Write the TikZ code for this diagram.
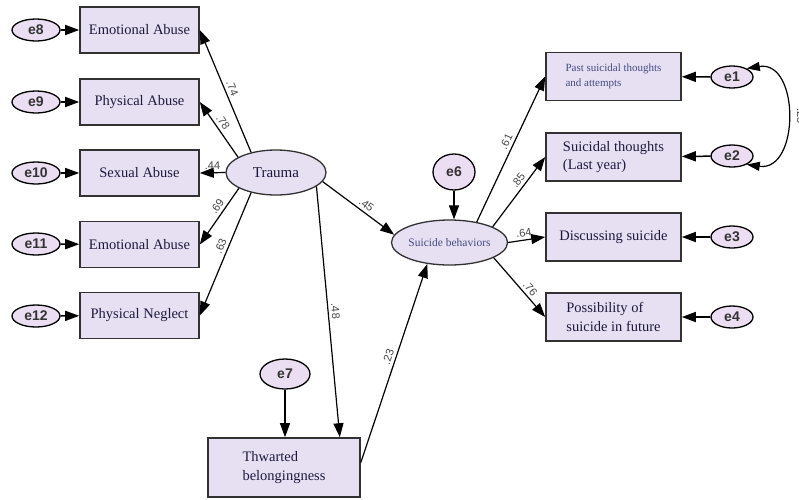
\documentclass[tikz,border=0pt]{standalone}
\usepackage{fontspec}
\setmainfont{Liberation Serif}
\newfontfamily\arialf{Liberation Sans}
\usetikzlibrary{arrows.meta,shapes.geometric,calc}
\definecolor{boxfill}{RGB}{230,224,242}
\definecolor{efill}{RGB}{236,222,242}
\definecolor{edgec}{RGB}{50,50,50}
\definecolor{lblgray}{RGB}{70,70,70}
\definecolor{txtnavy}{RGB}{30,25,60}
\definecolor{txtblue}{RGB}{70,75,130}
\begin{document}
\begin{tikzpicture}[x=1pt,y=-1pt,
 obs/.style={draw=edgec, line width=1.6pt, fill=boxfill, rectangle, inner sep=0pt, font=\fontsize{14.5}{18.5}\selectfont, text=txtnavy},
 lbox/.style={obs, minimum width=119pt, minimum height=46pt},
 rbox/.style={obs, minimum width=135pt, minimum height=48pt, align=left},
 lat/.style={draw=edgec, line width=1.3pt, fill=boxfill, ellipse, inner sep=0pt, minimum width=100pt, minimum height=45pt},
 err/.style={draw=black, line width=1.3pt, fill=efill, ellipse, inner sep=0pt, font=\arialf\bfseries\fontsize{14}{14}\selectfont, text=black!80},
 errL/.style={err, minimum width=48pt, minimum height=22pt},
 errR/.style={err, minimum width=42pt, minimum height=22pt},
 conn/.style={draw=black, line width=1.2pt, -{Triangle[length=14pt,width=10pt]}},
 econn/.style={draw=black, line width=1.5pt, -{Triangle[length=14pt,width=10pt]}},
 coef/.style={font=\arialf\fontsize{11}{11}\selectfont, text=lblgray, sloped, above, inner sep=3pt},
]
\useasboundingbox[fill=white] (0,0) rectangle (799,499);

% left indicators
\node[lbox] (ea1) at (139.5,30) {Emotional Abuse};
\node[lbox] (pa)  at (139.5,102) {Physical Abuse};
\node[lbox] (sa)  at (139.5,173) {Sexual Abuse};
\node[lbox] (ea2) at (139.5,244.5) {Emotional Abuse};
\node[lbox] (pn)  at (139.5,315.5) {Physical Neglect};

\node[errL] (e8)  at (36,30) {e8};
\node[errL] (e9)  at (36,102) {e9};
\node[errL] (e10) at (36,173) {e10};
\node[errL] (e11) at (36,244) {e11};
\node[errL] (e12) at (36,316) {e12};

\draw[econn] (e8) -- (ea1);
\draw[econn] (e9) -- (pa);
\draw[econn] (e10) -- (sa);
\draw[econn] (e11) -- (ea2);
\draw[econn] (e12) -- (pn);

% latents
\node[lat, font=\fontsize{15}{15}\selectfont, text=txtnavy] (trauma) at (276,172.5) {Trauma};
\node[lat, font=\fontsize{11.5}{11.5}\selectfont, text=txtblue] (sb) at (449.5,242.5) {Suicide behaviors};
\node[err, minimum width=42pt, minimum height=36pt] (e6) at (454,172) {e6};

% right indicators
\node[rbox, font=\fontsize{11}{15}\selectfont, text=txtblue] (past) at (613.5,76.5) {Past suicidal thoughts\\and attempts};
\node[rbox] (st)   at (613.5,157) {Suicidal thoughts\\(Last year)};
\node[rbox] (dis)  at (613.5,237) {Discussing suicide};
\node[rbox] (poss) at (613.5,317) {Possibility of\\suicide in future};

\node[errR] (e1) at (732,77) {e1};
\node[errR] (e2) at (732,156) {e2};
\node[errR] (e3) at (732,237) {e3};
\node[errR] (e4) at (732,317) {e4};

\draw[econn] (e1) -- (past);
\draw[econn] (e2) -- (st);
\draw[econn] (e3) -- (dis);
\draw[econn] (e4) -- (poss);

\draw[draw=black, line width=1.2pt, {Triangle[length=13pt,width=9pt]}-{Triangle[length=13pt,width=9pt]}]
  (e1.30) .. controls (800,60) and (800,172) .. (e2.-30);
\node[font=\arialf\fontsize{11}{11}\selectfont, text=lblgray, rotate=-90] (cov) at (801,116) {.25};

% thwarted
\node[obs, minimum width=152pt, minimum height=59pt, align=left] (tb) at (284,467.5) {Thwarted\\belongingness};
\node[err, minimum width=50pt, minimum height=30pt] (e7) at (285,374) {e7};

% paths from trauma
\draw[conn] (trauma.141) -- (ea1.east) node[coef,pos=.5] {.74};
\draw[conn] (trauma.158) -- (pa.east) node[coef,pos=.55] {.78};
\draw[conn] (trauma.west) -- (sa.east) node[coef,pos=.5] {.44};
\draw[conn] (trauma.203) -- (ea2.east) node[coef,pos=.4] {.69};
\draw[conn] (trauma.219) -- (pn.east) node[coef,pos=.46] {.63};

\draw[conn] (trauma.349) -- (sb.172) node[coef,pos=.55] {.45};
\draw[conn] (trauma.341) -- ($(tb.north east)+(-21,0)$) node[coef,pos=.5] {.48};
\draw[conn] ($(tb.east)+(0,-5)$) -- (sb.224) node[coef,pos=.52] {.23};
\draw[conn] (e7) -- (e7 |- tb.north);
\draw[conn] (e6) -- (e6 |- sb.north);

% paths from suicide behaviors
\draw[conn] (sb.37) -- (past.west) node[coef,pos=.53] {.61};
\draw[conn] (sb.20) -- (st.west) node[coef,pos=.6] {.85};
\draw[conn] (sb.east) -- (dis.west) node[coef,pos=.45] {.64};
\draw[conn] (sb.-19) -- (poss.west) node[coef,pos=.6] {.76};
\end{tikzpicture}
\end{document}
